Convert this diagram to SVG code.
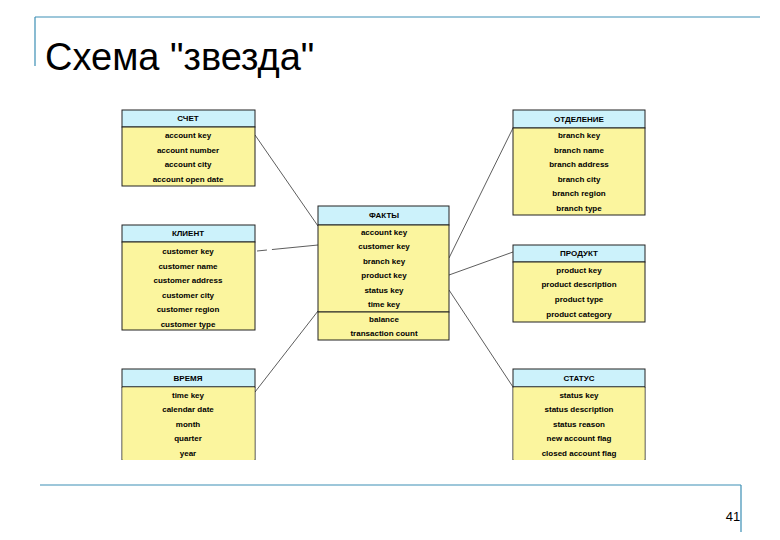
<svg xmlns="http://www.w3.org/2000/svg" width="780" height="540" viewBox="0 0 780 540">
<style>
.h{fill:#ccf2fb;stroke:#222;stroke-width:1}
.b{fill:#fbf59e;stroke:#222;stroke-width:1}
.t{font-family:"Liberation Sans",Arial,sans-serif;font-size:8px;font-weight:bold;text-anchor:middle;fill:#000}
.c{stroke:#333;stroke-width:0.8;fill:none}
</style>
<rect width="780" height="540" fill="#fff"/>
<g id="decor" stroke="#3d8fb5" stroke-width="1.2" fill="none">
<path d="M35 17H760M35 17V66"/>
<path d="M40 485H741M741 485V532"/>
</g>
<text x="45" y="70" font-family="Liberation Sans,Arial,sans-serif" font-size="38" fill="#000">Схема "звезда"</text>
<text x="733" y="521" font-family="Liberation Sans,Arial,sans-serif" font-size="13" text-anchor="middle" fill="#000">41</text>
<g id="connectors">
<line class="c" x1="255" y1="135" x2="318" y2="226"/>
<line class="c" x1="257" y1="251" x2="318" y2="245" stroke-dasharray="10,5,60"/>
<line class="c" x1="255" y1="392" x2="318" y2="311"/>
<line class="c" x1="513" y1="128" x2="449" y2="258"/>
<line class="c" x1="513" y1="252" x2="449" y2="275"/>
<line class="c" x1="513" y1="387" x2="449" y2="290"/>
</g>
<g id="schet">
<rect class="h" x="122" y="110" width="133" height="17"/>
<rect class="b" x="122" y="127" width="133" height="59"/>
<text class="t" x="188" y="121">СЧЕТ</text>
<text class="t" x="188" y="138">account key</text>
<text class="t" x="188" y="153">account number</text>
<text class="t" x="188" y="167">account city</text>
<text class="t" x="188" y="182">account open date</text>
</g>
<g id="klient">
<rect class="h" x="122" y="225" width="133" height="17"/>
<rect class="b" x="122" y="242" width="133" height="88"/>
<text class="t" x="188" y="236">КЛИЕНТ</text>
<text class="t" x="188" y="254">customer key</text>
<text class="t" x="188" y="269">customer name</text>
<text class="t" x="188" y="283">customer address</text>
<text class="t" x="188" y="298">customer city</text>
<text class="t" x="188" y="312">customer region</text>
<text class="t" x="188" y="327">customer type</text>
</g>
<g id="vremya">
<rect class="h" x="122" y="369" width="133" height="18"/>
<path class="b" d="M122 460V387H255V460" />
<rect x="122.5" y="387.5" width="132" height="72" fill="#fbf59e"/>
<text class="t" x="188" y="381">ВРЕМЯ</text>
<text class="t" x="188" y="398">time key</text>
<text class="t" x="188" y="412">calendar date</text>
<text class="t" x="188" y="427">month</text>
<text class="t" x="188" y="441">quarter</text>
<text class="t" x="188" y="456">year</text>
</g>
<g id="fakty">
<rect class="h" x="318" y="206" width="131" height="19"/>
<rect class="b" x="318" y="225" width="131" height="87"/>
<rect class="b" x="318" y="312" width="131" height="28"/>
<text class="t" x="384" y="218">ФАКТЫ</text>
<text class="t" x="384" y="235">account key</text>
<text class="t" x="384" y="249">customer key</text>
<text class="t" x="384" y="264">branch key</text>
<text class="t" x="384" y="278">product key</text>
<text class="t" x="384" y="293">status key</text>
<text class="t" x="384" y="307">time key</text>
<text class="t" x="384" y="322">balance</text>
<text class="t" x="384" y="336">transaction count</text>
</g>
<g id="otdelenie">
<rect class="h" x="513" y="110" width="132" height="18"/>
<rect class="b" x="513" y="128" width="132" height="87"/>
<text class="t" x="579" y="122">ОТДЕЛЕНИЕ</text>
<text class="t" x="579" y="138">branch key</text>
<text class="t" x="579" y="153">branch name</text>
<text class="t" x="579" y="167">branch address</text>
<text class="t" x="579" y="182">branch city</text>
<text class="t" x="579" y="196">branch region</text>
<text class="t" x="579" y="211">branch type</text>
</g>
<g id="produkt">
<rect class="h" x="513" y="245" width="132" height="17"/>
<rect class="b" x="513" y="262" width="132" height="60"/>
<text class="t" x="579" y="256">ПРОДУКТ</text>
<text class="t" x="579" y="273">product key</text>
<text class="t" x="579" y="287">product description</text>
<text class="t" x="579" y="302">product type</text>
<text class="t" x="579" y="317">product category</text>
</g>
<g id="status">
<rect class="h" x="513" y="369" width="132" height="18"/>
<path class="b" d="M513 460V387H645V460"/>
<rect x="513.5" y="387.5" width="131" height="72" fill="#fbf59e"/>
<text class="t" x="579" y="381">СТАТУС</text>
<text class="t" x="579" y="398">status key</text>
<text class="t" x="579" y="412">status description</text>
<text class="t" x="579" y="427">status reason</text>
<text class="t" x="579" y="441">new account flag</text>
<text class="t" x="579" y="456">closed account flag</text>
</g>
</svg>
